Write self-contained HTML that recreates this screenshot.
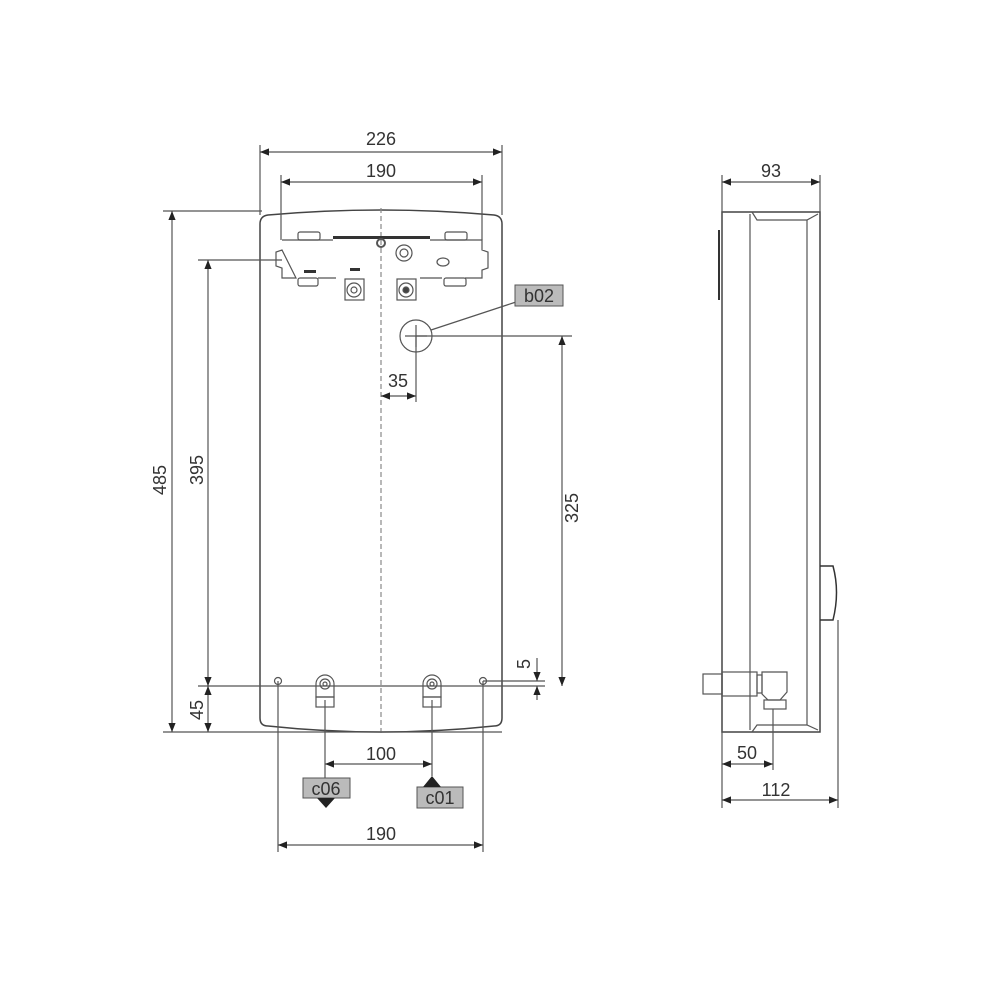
<!DOCTYPE html>
<html><head><meta charset="utf-8"><style>
html,body{margin:0;padding:0;background:#fff}
svg{display:block}
text{font-family:"Liberation Sans",Arial,sans-serif;font-size:18px;fill:#333}
</style></head><body>
<svg width="1000" height="1000" viewBox="0 0 1000 1000" xmlns="http://www.w3.org/2000/svg">
<defs>
<marker id="a" viewBox="0 0 10 10" refX="10" refY="5" markerWidth="9" markerHeight="9" orient="auto-start-reverse" markerUnits="userSpaceOnUse"><path d="M0,1 L10,5 L0,9 z" fill="#222"/></marker>
</defs>
<g stroke="#555" stroke-width="1.2" fill="none">
<!-- front body -->
<path d="M260,224 Q260,216 268,215 Q381,205 494,215 Q502,216 502,224 L502,718 Q502,726 494,726 Q381,738 268,726 Q260,726 260,718 Z" stroke="#444" stroke-width="1.5"/>
<line x1="381" y1="208" x2="381" y2="734" stroke-dasharray="5,3" stroke="#888"/>
<!-- extension lines -->
<line x1="163" y1="211" x2="262" y2="211"/>
<line x1="198" y1="260" x2="282" y2="260"/>
<line x1="198" y1="686" x2="545" y2="686"/>
<line x1="163" y1="732" x2="502" y2="732"/>
<line x1="260" y1="145" x2="260" y2="215"/>
<line x1="502" y1="145" x2="502" y2="215"/>
<line x1="281" y1="175" x2="281" y2="240"/>
<line x1="482" y1="175" x2="482" y2="240"/>
<line x1="416" y1="336" x2="572" y2="336"/>
<line x1="416" y1="336" x2="416" y2="402"/>
<line x1="278" y1="681" x2="278" y2="852"/>
<line x1="483" y1="681" x2="483" y2="852"/>
<line x1="325" y1="700" x2="325" y2="778"/>
<line x1="432" y1="700" x2="432" y2="776"/>
<line x1="483" y1="681" x2="545" y2="681"/>
<!-- dims -->
<line x1="260" y1="152" x2="502" y2="152" marker-start="url(#a)" marker-end="url(#a)"/>
<line x1="281" y1="182" x2="482" y2="182" marker-start="url(#a)" marker-end="url(#a)"/>
<line x1="172" y1="211" x2="172" y2="732" marker-start="url(#a)" marker-end="url(#a)"/>
<line x1="208" y1="260" x2="208" y2="686" marker-start="url(#a)" marker-end="url(#a)"/>
<line x1="208" y1="686" x2="208" y2="732" marker-start="url(#a)" marker-end="url(#a)"/>
<line x1="381" y1="396" x2="416" y2="396" marker-start="url(#a)" marker-end="url(#a)"/>
<line x1="562" y1="336" x2="562" y2="686" marker-start="url(#a)" marker-end="url(#a)"/>
<line x1="537" y1="658" x2="537" y2="681" marker-end="url(#a)"/>
<line x1="537" y1="700" x2="537" y2="686" marker-end="url(#a)"/>
<line x1="325" y1="764" x2="432" y2="764" marker-start="url(#a)" marker-end="url(#a)"/>
<line x1="278" y1="845" x2="483" y2="845" marker-start="url(#a)" marker-end="url(#a)"/>
<!-- bracket -->
<path d="M282,240 L333,240 M430,240 L482,240 L482,250 L488,252 L488,268 L482,270 L482,278 L465,278 M442,278 L420,278 M336,278 L318,278 M296,278 L282,278 L282,268 L276,266 L276,252 L282,250 Z"/>
<rect x="333" y="236" width="97" height="3" fill="#333" stroke="none"/>
<rect x="298" y="232" width="22" height="8" rx="2"/><rect x="445" y="232" width="22" height="8" rx="2"/>
<rect x="298" y="278" width="20" height="8" rx="2"/><rect x="444" y="278" width="22" height="8" rx="2"/>
<circle cx="381" cy="243" r="4" stroke-width="2"/>
<circle cx="404" cy="253" r="8"/><circle cx="404" cy="253" r="4"/>
<rect x="345" y="279" width="19" height="21"/><circle cx="354" cy="290" r="7"/><circle cx="354" cy="290" r="3"/>
<rect x="397" y="279" width="19" height="21"/><circle cx="406" cy="290" r="7"/><circle cx="406" cy="290" r="3" fill="#444"/>
<rect x="304" y="270" width="12" height="3" fill="#333" stroke="none"/>
<rect x="350" y="268" width="10" height="3" fill="#333" stroke="none"/>
<ellipse cx="443" cy="262" rx="6" ry="4"/>
<!-- b02 circle -->
<circle cx="416" cy="336" r="16"/>
<line x1="405" y1="336" x2="427" y2="336"/><line x1="416" y1="325" x2="416" y2="347"/>
<line x1="431" y1="330" x2="516" y2="302"/>
<!-- fittings -->
<circle cx="278" cy="681" r="3.5"/><circle cx="483" cy="681" r="3.5"/>
<path d="M316,697 L316,684 A9,9 0 0 1 334,684 L334,697 Z"/><circle cx="325" cy="684" r="5"/><circle cx="325" cy="684" r="2"/>
<rect x="316" y="697" width="18" height="10"/>
<path d="M423,697 L423,684 A9,9 0 0 1 441,684 L441,697 Z"/><circle cx="432" cy="684" r="5"/><circle cx="432" cy="684" r="2"/>
<rect x="423" y="697" width="18" height="10"/>
<!-- side view -->
<path d="M722,212 L820,212 L820,732 L722,732 Z" stroke="#444" stroke-width="1.5"/>
<line x1="750" y1="214" x2="750" y2="730"/>
<path d="M752,212 L757,220 L807,220 L818,214"/>
<line x1="807" y1="220" x2="807" y2="725"/>
<path d="M752,732 L757,725 L807,725 L818,730"/>
<line x1="719" y1="230" x2="719" y2="300" stroke-width="2" stroke="#333"/>
<path d="M820,566 L833,566 Q840,592 833,620 L820,620" stroke="#333" stroke-width="1.5"/>
<rect x="703" y="674" width="19" height="20"/>
<rect x="722" y="672" width="35" height="24"/>
<rect x="757" y="675" width="5" height="18"/>
<path d="M762,672 L787,672 L787,692 L780,700 L768,700 L762,694 Z"/>
<rect x="764" y="700" width="22" height="9"/>
<line x1="722" y1="175" x2="722" y2="808"/>
<line x1="820" y1="175" x2="820" y2="212"/>
<line x1="838" y1="620" x2="838" y2="808"/>
<line x1="773" y1="709" x2="773" y2="770"/>
<line x1="722" y1="182" x2="820" y2="182" marker-start="url(#a)" marker-end="url(#a)"/>
<line x1="722" y1="764" x2="773" y2="764" marker-start="url(#a)" marker-end="url(#a)"/>
<line x1="722" y1="800" x2="838" y2="800" marker-start="url(#a)" marker-end="url(#a)"/>
</g>
<!-- labels -->
<rect x="515" y="285" width="48" height="21" fill="#bbb" stroke="#555"/>
<text x="539" y="302" text-anchor="middle">b02</text>
<rect x="303" y="778" width="47" height="20" fill="#bbb" stroke="#555"/>
<text x="326" y="795" text-anchor="middle">c06</text>
<path d="M317,798 L335,798 L326,808 Z" fill="#222"/>
<rect x="417" y="787" width="46" height="21" fill="#bbb" stroke="#555"/>
<text x="440" y="804" text-anchor="middle">c01</text>
<path d="M423,787 L441,787 L432,776 Z" fill="#222"/>
<text x="381" y="145" text-anchor="middle">226</text>
<text x="381" y="177" text-anchor="middle">190</text>
<text x="398" y="387" text-anchor="middle">35</text>
<text x="381" y="760" text-anchor="middle">100</text>
<text x="381" y="840" text-anchor="middle">190</text>
<text x="771" y="177" text-anchor="middle">93</text>
<text x="747" y="759" text-anchor="middle">50</text>
<text x="776" y="796" text-anchor="middle">112</text>
<text transform="translate(166,480) rotate(-90)" text-anchor="middle">485</text>
<text transform="translate(203,470) rotate(-90)" text-anchor="middle">395</text>
<text transform="translate(203,710) rotate(-90)" text-anchor="middle">45</text>
<text transform="translate(578,508) rotate(-90)" text-anchor="middle">325</text>
<text transform="translate(530,664) rotate(-90)" text-anchor="middle">5</text>
</svg>
</body></html>
